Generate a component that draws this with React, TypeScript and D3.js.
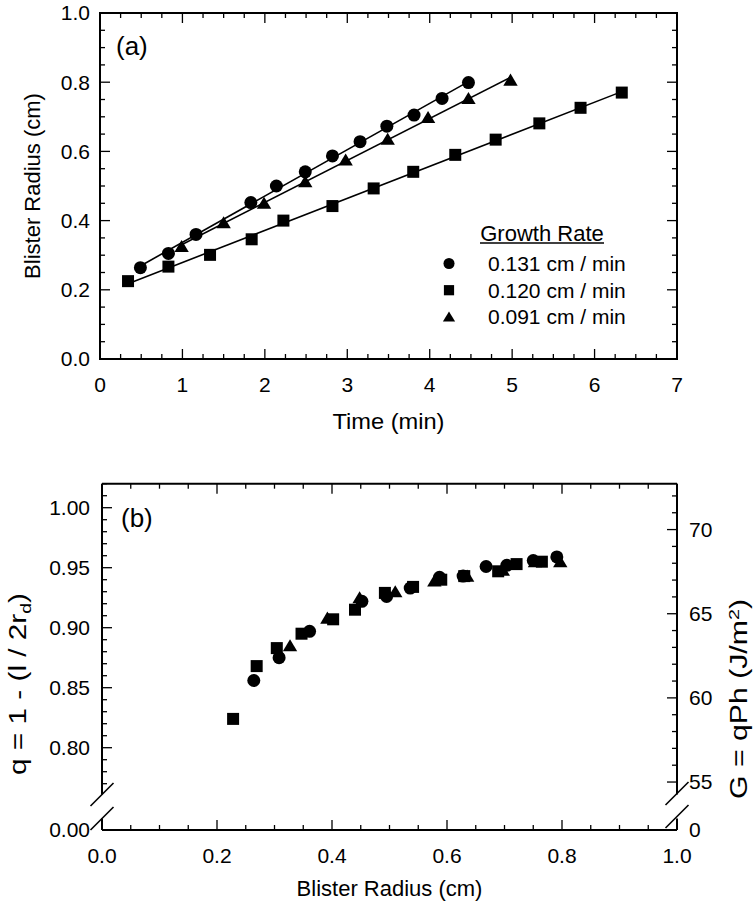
import React from 'react';
import * as d3 from 'd3';

// ---------- Data: panel (a) ----------
const circleT = [0.49, 0.83, 1.165, 1.83, 2.14, 2.49, 2.82, 3.155, 3.48, 3.81, 4.15, 4.47];
const circleR = [0.264, 0.305, 0.36, 0.452, 0.5, 0.541, 0.587, 0.628, 0.673, 0.705, 0.753, 0.799];
const squareT = [0.34, 0.83, 1.335, 1.84, 2.225, 2.82, 3.32, 3.8, 4.31, 4.8, 5.33, 5.83, 6.33];
const squareR = [0.225, 0.267, 0.301, 0.346, 0.4, 0.442, 0.493, 0.541, 0.59, 0.634, 0.681, 0.726, 0.77];
const triT = [0.99, 1.5, 1.99, 2.49, 2.98, 3.49, 3.98, 4.47, 4.98];
const triR = [0.325, 0.394, 0.45, 0.512, 0.575, 0.635, 0.698, 0.753, 0.806];

const legendLabels = ['0.131 cm / min', '0.120 cm / min', '0.091 cm / min'];
const legendShapes = ['circle', 'square', 'triangle'];

const aXTicks = [0, 1, 2, 3, 4, 5, 6, 7];
const aYTicks = [0, 0.2, 0.4, 0.6, 0.8, 1.0];

// ---------- Data: panel (b) ----------
const bCircR = [0.264, 0.308, 0.361, 0.452, 0.495, 0.536, 0.587, 0.628, 0.668, 0.704, 0.75, 0.791];
const bCircQ = [0.856, 0.875, 0.897, 0.922, 0.926, 0.933, 0.942, 0.943, 0.951, 0.952, 0.956, 0.959];
const bSqR = [0.228, 0.269, 0.304, 0.347, 0.402, 0.44, 0.492, 0.541, 0.59, 0.63, 0.689, 0.721, 0.765];
const bSqQ = [0.824, 0.868, 0.883, 0.895, 0.907, 0.915, 0.929, 0.934, 0.94, 0.943, 0.947, 0.953, 0.955];
const bTriR = [0.327, 0.392, 0.448, 0.51, 0.578, 0.635, 0.697, 0.753, 0.797];
const bTriQ = [0.885, 0.908, 0.925, 0.93, 0.939, 0.943, 0.948, 0.955, 0.955];

const bXTicks = [0, 0.2, 0.4, 0.6, 0.8, 1.0];
const bQTicks = [0.8, 0.85, 0.9, 0.95, 1.0];
const bGTicks = [55, 60, 65, 70];
const PH = 71.3; // G = q * P * h

const FONT = "'Liberation Sans', Arial, Helvetica, sans-serif";
const MAJ = 10;
const MIN = 5;

function Marker({ shape, x, y, s = 1 }: { shape: string; x: number; y: number; s?: number }) {
  if (shape === 'circle') return <circle cx={x} cy={y} r={6.5 * s} fill="#000" />;
  if (shape === 'square') {
    const h = 6 * s;
    return <rect x={x - h} y={y - h} width={2 * h} height={2 * h} fill="#000" />;
  }
  const w = 7.2 * s;
  const hh = 6.5 * s;
  return <path d={`M${x},${y - hh} L${x + w},${y + hh * 0.85} L${x - w},${y + hh * 0.85} Z`} fill="#000" />;
}

function fit(xs: number[], ys: number[]) {
  const mx = d3.mean(xs) as number;
  const my = d3.mean(ys) as number;
  let num = 0, den = 0;
  xs.forEach((x, i) => { num += (x - mx) * (ys[i] - my); den += (x - mx) * (x - mx); });
  const b = num / den;
  return { b, a: my - b * mx };
}

function range(a: number, b: number, step: number) {
  const out: number[] = [];
  for (let v = a; v <= b + step * 1e-6; v += step) out.push(+v.toFixed(6));
  return out;
}

export default function App() {
  const xA = d3.scaleLinear().domain([0, 7]).range([100, 677]);
  const yA = d3.scaleLinear().domain([0, 1]).range([359, 13]);

  const aXMinor = range(0, 7, 0.25);
  const aYMinor = range(0, 1, 0.05);
  const isMaj = (v: number, step: number) => Math.abs(v / step - Math.round(v / step)) < 1e-6;

  const seriesA = [
    { shape: 'circle', t: circleT, r: circleR },
    { shape: 'square', t: squareT, r: squareR },
    { shape: 'triangle', t: triT, r: triR },
  ];

  const xB = d3.scaleLinear().domain([0, 1]).range([102, 677]);
  const qB = d3.scaleLinear().domain([0.8, 1.0]).range([747.7, 507.7]);
  const gB = d3.scaleLinear().domain([0.8 * PH, 1.0 * PH]).range([747.7, 507.7]);
  const bTop = qB(1.02);
  const bBot = 830;
  const brkU = 794.5;
  const brkL = 818.5;
  const bL = xB(0);
  const bR = xB(1);

  const bXMinor = range(0, 1, 0.05);
  const bQMinor = range(0.77, 1.02, 0.01);
  const bGMinor = range(55, 72, 1);

  const seriesB = [
    { shape: 'circle', r: bCircR, q: bCircQ },
    { shape: 'square', r: bSqR, q: bSqQ },
    { shape: 'triangle', r: bTriR, q: bTriQ },
  ];

  const slash = (cx: number, cy: number) => (
    <line x1={cx - 11.5} y1={cy + 11.5} x2={cx + 11.5} y2={cy - 11.5} stroke="#000" strokeWidth={1.6} />
  );

  return (
    <svg width={756} height={906} style={{ position: 'absolute', left: 0, top: 0, background: '#fff' }} fontFamily={FONT}>
      <rect x={0} y={0} width={756} height={906} fill="#fff" />
      {/* ================= Panel (a) ================= */}
      <g>
        {aXMinor.map((v) => {
          const len = isMaj(v, 1) ? MAJ : MIN;
          const x = xA(v);
          return (
            <g key={'ax' + v}>
              <line x1={x} x2={x} y1={yA(0)} y2={yA(0) - len} stroke="#000" strokeWidth={1.3} />
              <line x1={x} x2={x} y1={yA(1)} y2={yA(1) + len} stroke="#000" strokeWidth={1.3} />
            </g>
          );
        })}
        {aYMinor.map((v) => {
          const len = isMaj(v, 0.2) ? MAJ : MIN;
          const y = yA(v);
          return (
            <g key={'ay' + v}>
              <line x1={xA(0)} x2={xA(0) + len} y1={y} y2={y} stroke="#000" strokeWidth={1.3} />
              <line x1={xA(7)} x2={xA(7) - len} y1={y} y2={y} stroke="#000" strokeWidth={1.3} />
            </g>
          );
        })}
        <rect x={xA(0)} y={yA(1)} width={xA(7) - xA(0)} height={yA(0) - yA(1)} fill="none" stroke="#000" strokeWidth={2} />

        {aXTicks.map((v) => (
          <text key={'axl' + v} x={xA(v)} y={yA(0) + 26} dy="0.35em" textAnchor="middle" fontSize={21}>{v}</text>
        ))}
        {aYTicks.map((v) => (
          <text key={'ayl' + v} x={xA(0) - 10} y={yA(v)} dy="0.35em" textAnchor="end" fontSize={21}>{d3.format('.1f')(v)}</text>
        ))}
        <text x={(xA(0) + xA(7)) / 2} y={421} dy="0.35em" textAnchor="middle" fontSize={22} textLength={112} lengthAdjust="spacingAndGlyphs">Time (min)</text>
        <text transform={`translate(32,${(yA(0) + yA(1)) / 2}) rotate(-90)`} dy="0.35em" textAnchor="middle" fontSize={22}>Blister Radius (cm)</text>
        <text x={116} y={46} dy="0.35em" fontSize={26}>(a)</text>

        {seriesA.map((s) => {
          const { a, b } = fit(s.t, s.r);
          const t0 = d3.min(s.t) as number;
          const t1 = d3.max(s.t) as number;
          return (
            <line key={'fit' + s.shape} x1={xA(t0)} y1={yA(a + b * t0)} x2={xA(t1)} y2={yA(a + b * t1)} stroke="#000" strokeWidth={1.6} />
          );
        })}
        {seriesA.map((s) => s.t.map((t, i) => <Marker key={s.shape + i} shape={s.shape} x={xA(t)} y={yA(s.r[i])} />))}

        <text x={542} y={233} dy="0.35em" textAnchor="middle" fontSize={22}>Growth Rate</text>
        <line x1={480} x2={604} y1={243} y2={243} stroke="#000" strokeWidth={1.5} />
        {legendLabels.map((lab, i) => (
          <g key={'lg' + i}>
            <Marker shape={legendShapes[i]} x={449} y={263.5 + i * 26.7} s={0.85} />
            <text x={488} y={263.5 + i * 26.7} dy="0.35em" fontSize={21}>{lab}</text>
          </g>
        ))}
      </g>

      {/* ================= Panel (b) ================= */}
      <g>
        {bXMinor.map((v) => {
          const len = isMaj(v, 0.2) ? MAJ : MIN;
          const x = xB(v);
          return (
            <g key={'bx' + v}>
              <line x1={x} x2={x} y1={bBot} y2={bBot - len} stroke="#000" strokeWidth={1.3} />
              <line x1={x} x2={x} y1={bTop} y2={bTop + len} stroke="#000" strokeWidth={1.3} />
            </g>
          );
        })}
        {bQMinor.map((v) => {
          const len = isMaj(v, 0.05) ? MAJ : MIN;
          const y = qB(v);
          return <line key={'bq' + v} x1={bL} x2={bL + len} y1={y} y2={y} stroke="#000" strokeWidth={1.3} />;
        })}
        {bGMinor.map((v) => {
          const len = isMaj(v, 5) ? MAJ : MIN;
          const y = gB(v);
          return <line key={'bg' + v} x1={bR} x2={bR - len} y1={y} y2={y} stroke="#000" strokeWidth={1.3} />;
        })}
        <line x1={bL} x2={bR} y1={bTop} y2={bTop} stroke="#000" strokeWidth={2} />
        <line x1={bL} x2={bR} y1={bBot} y2={bBot} stroke="#000" strokeWidth={2} />
        <line x1={bL} x2={bL} y1={bTop} y2={brkU} stroke="#000" strokeWidth={2} />
        <line x1={bL} x2={bL} y1={brkL} y2={bBot} stroke="#000" strokeWidth={2} />
        <line x1={bR} x2={bR} y1={bTop} y2={brkU} stroke="#000" strokeWidth={2} />
        <line x1={bR} x2={bR} y1={brkL} y2={bBot} stroke="#000" strokeWidth={2} />
        {slash(bL, brkU)}
        {slash(bL, brkL)}
        {slash(bR, brkU - 1)}
        {slash(bR, brkL - 2)}

        {bXTicks.map((v) => (
          <text key={'bxl' + v} x={xB(v)} y={856} dy="0.35em" textAnchor="middle" fontSize={21}>{d3.format('.1f')(v)}</text>
        ))}
        {bQTicks.map((v) => (
          <text key={'bql' + v} x={bL - 12} y={qB(v)} dy="0.35em" textAnchor="end" fontSize={21}>{d3.format('.2f')(v)}</text>
        ))}
        <text x={bL - 12} y={bBot} dy="0.35em" textAnchor="end" fontSize={21}>0.00</text>
        {bGTicks.map((v) => (
          <text key={'bgl' + v} x={bR + 12} y={gB(v)} dy="0.35em" textAnchor="start" fontSize={21}>{v}</text>
        ))}
        <text x={bR + 12} y={bBot} dy="0.35em" textAnchor="start" fontSize={21}>0</text>

        <text x={(bL + bR) / 2} y={888} dy="0.35em" textAnchor="middle" fontSize={22}>Blister Radius (cm)</text>
        <text transform={`translate(18,684) rotate(-90)`} dy="0.35em" textAnchor="middle" fontSize={23} textLength={182} lengthAdjust="spacingAndGlyphs">
          q = 1 - (l / 2r<tspan fontSize={15} dy="5">d</tspan><tspan dy="-5">)</tspan>
        </text>
        <text transform={`translate(739,699) rotate(-90)`} dy="0.35em" textAnchor="middle" fontSize={23} textLength={200} lengthAdjust="spacingAndGlyphs">
          G = qPh (J/m<tspan fontSize={15} dy="-8">2</tspan><tspan dy="8">)</tspan>
        </text>
        <text x={121} y={518} dy="0.35em" fontSize={26}>(b)</text>

        {seriesB.map((s) => s.r.map((r, i) => <Marker key={'b' + s.shape + i} shape={s.shape} x={xB(r)} y={qB(s.q[i])} />))}
      </g>
    </svg>
  );
}
